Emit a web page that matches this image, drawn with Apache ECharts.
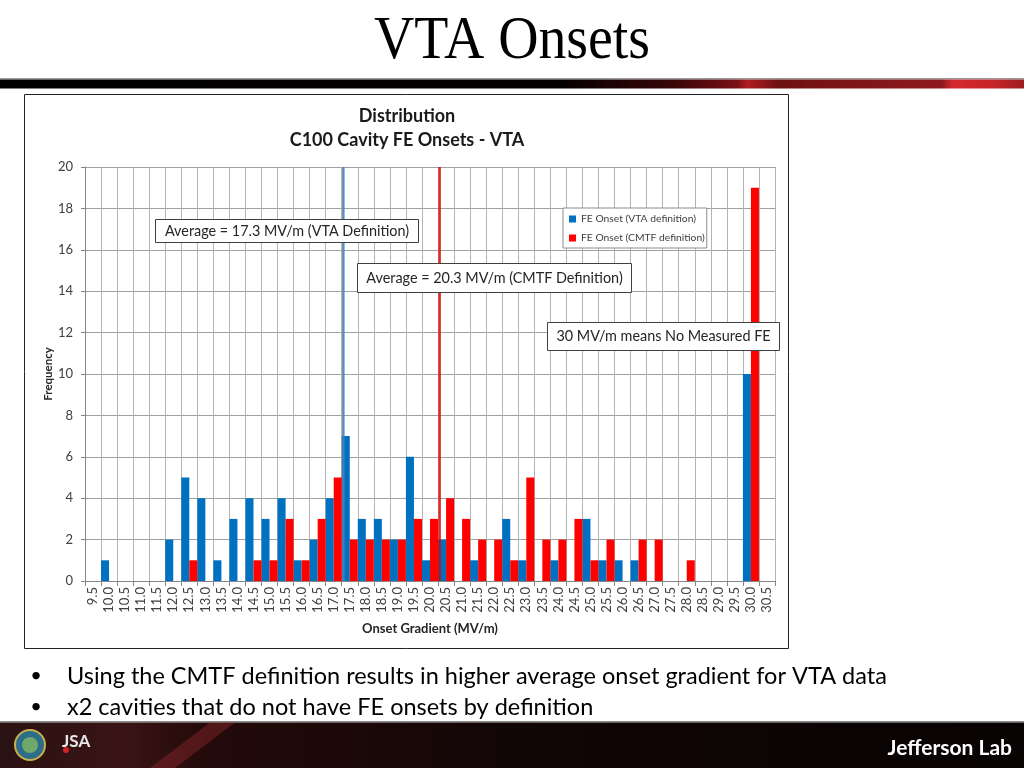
<!DOCTYPE html>
<html>
<head>
<meta charset="utf-8">
<title>VTA Onsets</title>
<script src="https://cdn.jsdelivr.net/npm/echarts@6/dist/echarts.min.js"></script>
<style>
  html, body { margin: 0; padding: 0; background: #ffffff; }
  #chart { width: 1024px; height: 768px; }
</style>
</head>
<body>
<div id="chart"></div>
<script>
// ---- data ----
const categories = ['9.5','10.0','10.5','11.0','11.5','12.0','12.5','13.0','13.5','14.0','14.5','15.0','15.5','16.0','16.5','17.0','17.5','18.0','18.5','19.0','19.5','20.0','20.5','21.0','21.5','22.0','22.5','23.0','23.5','24.0','24.5','25.0','25.5','26.0','26.5','27.0','27.5','28.0','28.5','29.0','29.5','30.0','30.5'];
const vtaOnsets  = [0,1,0,0,0,2,5,4,1,3,4,3,4,1,2,4,7,3,3,2,6,1,2,0,1,0,3,1,0,1,0,3,1,1,1,0,0,0,0,0,0,10,0];
const cmtfOnsets = [0,0,0,0,0,0,1,0,0,0,1,1,3,1,3,5,2,2,2,2,3,3,4,3,2,2,1,5,2,2,3,1,2,0,2,2,0,1,0,0,0,19,0];
const seriesNames = ['FE Onset (VTA definition)', 'FE Onset (CMTF definition)'];
const averageVTA = 17.3;
const averageCMTF = 20.3;
const yTicks = { min: 0, max: 20, interval: 2 };
const bullets = [
  'Using the CMTF definition results in higher average onset gradient for VTA data',
  'x2 cavities that do not have FE onsets by definition'
];
const notes = [
  'Average = 17.3 MV/m (VTA Definition)',
  'Average = 20.3 MV/m (CMTF Definition)',
  '30 MV/m means No Measured FE'
];

// ---- layout ----
const F = 'Lato, "Open Sans", sans-serif';
const plot = { left: 85, right: 775, top: 167, bottom: 581 };
const half = 0.25; // half of a category step (0.5)
const xMin = parseFloat(categories[0]) - half;
const xMax = parseFloat(categories[categories.length - 1]) + half;

const chart = echarts.init(document.getElementById('chart'), null, { renderer: 'canvas' });

function noteBox(x, y, w, h, text) {
  return [
    { type: 'rect', shape: { x: x, y: y, width: w, height: h }, style: { fill: '#fff', stroke: '#404040', lineWidth: 1 }, z: 20 },
    { type: 'text', x: x + w / 2, y: y + h / 2, style: { text: text, fill: '#262626', font: '14.4px ' + F, textAlign: 'center', textVerticalAlign: 'middle' }, z: 21 }
  ];
}

const graphics = [
  // top title
  { type: 'text', x: 512, y: 42, scaleX: 0.9, style: { text: 'VTA Onsets', fill: '#000', font: '62px "Liberation Serif", "DejaVu Serif", serif', textAlign: 'center', textVerticalAlign: 'middle' } },
  // top band
  { type: 'rect', shape: { x: 0, y: 78, width: 1024, height: 1.5 }, style: { fill: '#9a9a9a' } },
  { type: 'rect', shape: { x: 0, y: 79.5, width: 1024, height: 9 }, style: { fill: new echarts.graphic.LinearGradient(0, 0, 1, 0, [
      { offset: 0, color: '#000' }, { offset: 0.55, color: '#050000' }, { offset: 0.66, color: '#3a0608' },
      { offset: 0.72, color: '#7a1015' }, { offset: 0.73, color: '#b01c22' }, { offset: 0.76, color: '#6e1013' },
      { offset: 0.92, color: '#8e1a1e' }, { offset: 0.93, color: '#d42a2e' }, { offset: 0.97, color: '#c62528' }, { offset: 1, color: '#9e1d21' }
    ]) } },
  // chart frame
  { type: 'rect', shape: { x: 24.5, y: 94.5, width: 764, height: 554 }, style: { fill: 'none', stroke: '#222', lineWidth: 1 }, z: 0 },
  // chart titles
  { type: 'text', x: 407, y: 116, style: { text: 'Distribution', fill: '#1a1a1a', font: 'bold 18px ' + F, textAlign: 'center', textVerticalAlign: 'middle' } },
  { type: 'text', x: 407, y: 140, style: { text: 'C100 Cavity FE Onsets - VTA', fill: '#1a1a1a', font: 'bold 18px ' + F, textAlign: 'center', textVerticalAlign: 'middle' } },
  // bullets
  { type: 'text', x: 36, y: 676, style: { text: '\u2022', fill: '#000', font: '20px ' + F, textAlign: 'center', textVerticalAlign: 'middle' } },
  { type: 'text', x: 67, y: 676, style: { text: bullets[0], fill: '#000', font: '23.5px ' + F, textAlign: 'left', textVerticalAlign: 'middle' } },
  { type: 'text', x: 36, y: 707, style: { text: '\u2022', fill: '#000', font: '20px ' + F, textAlign: 'center', textVerticalAlign: 'middle' } },
  { type: 'text', x: 67, y: 707, style: { text: bullets[1], fill: '#000', font: '23.5px ' + F, textAlign: 'left', textVerticalAlign: 'middle' } },
  // footer
  { type: 'rect', shape: { x: 0, y: 721, width: 1024, height: 1.5 }, style: { fill: '#8a8a8a' } },
  { type: 'rect', shape: { x: 0, y: 722.5, width: 1024, height: 46 }, style: { fill: new echarts.graphic.LinearGradient(0, 0, 1, 0, [
      { offset: 0, color: '#2a1212' }, { offset: 0.12, color: '#3a1414' }, { offset: 0.2, color: '#240a0a' },
      { offset: 0.5, color: '#120606' }, { offset: 0.8, color: '#0c0404' }, { offset: 1, color: '#080303' }
    ]) } },
  { type: 'polygon', shape: { points: [[150, 768], [175, 768], [235, 722.5], [210, 722.5]] }, style: { fill: 'rgba(140,40,45,0.45)' } },
  { type: 'circle', shape: { cx: 30, cy: 745, r: 15 }, style: { fill: '#2c6e8a', stroke: '#c9b04a', lineWidth: 2 } },
  { type: 'circle', shape: { cx: 30, cy: 745, r: 8 }, style: { fill: '#6fa86a' } },
  { type: 'text', x: 62, y: 742, style: { text: 'JSA', fill: '#e8e8e8', font: 'bold 17px ' + F, textAlign: 'left', textVerticalAlign: 'middle' } },
  { type: 'circle', shape: { cx: 66, cy: 750, r: 3 }, style: { fill: '#d32027' } },
  { type: 'text', x: 1012, y: 748, style: { text: 'Jefferson Lab', fill: '#ffffff', font: 'bold 21px ' + F, textAlign: 'right', textVerticalAlign: 'middle' } }
].concat(
  noteBox(155.5, 219.5, 263, 23, notes[0]),
  noteBox(357.5, 263.5, 274, 29, notes[1]),
  noteBox(547.5, 322.5, 232, 28, notes[2])
);

const option = {
  animation: false,
  backgroundColor: '#ffffff',
  textStyle: { fontFamily: F },
  grid: { left: plot.left, right: 1024 - plot.right, top: plot.top, bottom: 768 - plot.bottom, containLabel: false },
  legend: {
    show: true,
    orient: 'vertical',
    left: 563, top: 208,
    padding: [6, 2, 5, 6],
    itemGap: 9,
    itemWidth: 7, itemHeight: 7,
    icon: 'rect',
    borderColor: '#8c8c8c', borderWidth: 1,
    backgroundColor: '#fff',
    textStyle: { fontSize: 10.3, color: '#404040', fontFamily: F },
    data: seriesNames,
    z: 20
  },
  xAxis: [
    {
      type: 'category',
      data: categories,
      boundaryGap: true,
      axisLine: { lineStyle: { color: '#868686' } },
      axisTick: { show: true, length: 5, interval: 0, lineStyle: { color: '#868686' } },
      axisLabel: { interval: 0, rotate: 90, fontSize: 13, color: '#404040', margin: 6, fontFamily: F },
      splitLine: { show: true, interval: 0, lineStyle: { color: '#b4b4b4', width: 1 } },
      name: 'Onset Gradient (MV/m)',
      nameLocation: 'middle',
      nameGap: 41,
      nameMoveOverlap: false,
      nameTextStyle: { fontSize: 13, fontWeight: 'bold', color: '#262626', fontFamily: F }
    },
    {
      type: 'value',
      min: xMin, max: xMax,
      show: false,
      splitLine: { show: false }
    }
  ],
  yAxis: {
    type: 'value',
    min: yTicks.min, max: yTicks.max, interval: yTicks.interval,
    axisLine: { show: true, lineStyle: { color: '#868686' } },
    axisTick: { show: true, length: 4, lineStyle: { color: '#868686' } },
    axisLabel: { fontSize: 13, color: '#404040', margin: 12, fontFamily: F },
    splitLine: { show: true, lineStyle: { color: '#a0a0a0', width: 1 } },
    name: 'Frequency',
    nameLocation: 'middle',
    nameGap: 31,
    nameMoveOverlap: false,
    nameRotate: 90,
    nameTextStyle: { fontSize: 11.5, fontWeight: 'bold', color: '#262626', fontFamily: F }
  },
  series: [
    {
      name: seriesNames[0], type: 'bar', data: vtaOnsets,
      xAxisIndex: 0,
      barGap: '0%', barCategoryGap: '0%',
      itemStyle: { color: '#0070c0' }, z: 3
    },
    {
      name: seriesNames[1], type: 'bar', data: cmtfOnsets,
      xAxisIndex: 0,
      barGap: '0%', barCategoryGap: '0%',
      itemStyle: { color: '#ff0000' }, z: 3
    },
    {
      name: 'avgVTA', type: 'line', xAxisIndex: 1,
      data: [[averageVTA, yTicks.min], [averageVTA, yTicks.max]],
      symbol: 'none', silent: true,
      lineStyle: { color: '#4a7ebb', width: 2.5, opacity: 0.9 }, z: 10
    },
    {
      name: 'avgCMTF', type: 'line', xAxisIndex: 1,
      data: [[averageCMTF, yTicks.min], [averageCMTF, yTicks.max]],
      symbol: 'none', silent: true,
      lineStyle: { color: '#e00000', width: 2.5, opacity: 0.85 }, z: 10
    }
  ],
  graphic: graphics
};

chart.setOption(option);
</script>
</body>
</html>
